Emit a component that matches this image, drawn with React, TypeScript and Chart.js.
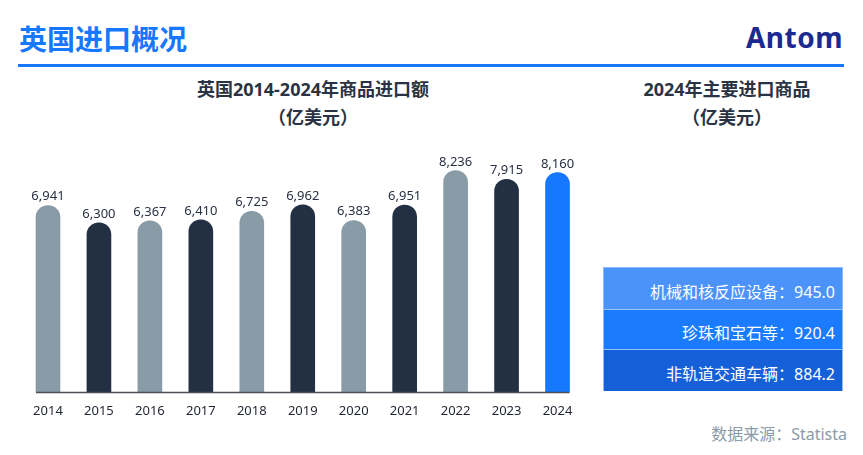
import React, { useEffect, useRef } from "react";
import { Chart, registerables } from "chart.js";

Chart.register(...registerables);

const years = ["2014", "2015", "2016", "2017", "2018", "2019", "2020", "2021", "2022", "2023", "2024"];
const importValues = [6941, 6300, 6367, 6410, 6725, 6962, 6383, 6951, 8236, 7915, 8160];
const barColors = ["#8a9ba8", "#232f43", "#8a9ba8", "#232f43", "#8a9ba8", "#232f43", "#8a9ba8", "#232f43", "#8a9ba8", "#232f43", "#1677ff"];

const topGoods = ["机械和核反应设备", "珍珠和宝石等", "非轨道交通车辆"];
const topGoodsValues = [945.0, 920.4, 884.2];
const topGoodsColors = ["#4b92fb", "#1b7bff", "#1560d8"];

const FONT = '"Noto Sans", "Noto Sans CJK SC", sans-serif';

const labelPlugin = {
  id: "barLabels",
  afterDatasetsDraw(chart: any) {
    const ctx = chart.ctx;
    const meta = chart.getDatasetMeta(0);
    const ds = chart.data.datasets[0];
    ctx.save();
    // baseline axis line spanning first to last bar
    const first = meta.data[0];
    const last = meta.data[meta.data.length - 1];
    const y0 = chart.scales.y.getPixelForValue(0);
    ctx.strokeStyle = "#4a4f58";
    ctx.lineWidth = 1.5;
    ctx.beginPath();
    ctx.moveTo(first.x - first.width / 2, y0);
    ctx.lineTo(last.x + last.width / 2, y0);
    ctx.stroke();
    ctx.font = "13px " + FONT;
    ctx.fillStyle = "#2a3142";
    ctx.textAlign = "center";
    ctx.textBaseline = "alphabetic";
    meta.data.forEach((bar: any, i: number) => {
      const v = ds.data[i] as number;
      ctx.fillText(v.toLocaleString("en-US"), bar.x, bar.y - 5);
    });
    ctx.restore();
  },
};

export default function App() {
  const canvasRef = useRef<HTMLCanvasElement | null>(null);

  useEffect(() => {
    document.body.style.margin = "0";
    const canvas = canvasRef.current;
    if (!canvas) return;
    const chart = new Chart(canvas, {
      type: "bar",
      data: {
        labels: years,
        datasets: [
          {
            data: importValues,
            backgroundColor: barColors,
            barThickness: 24,
            borderRadius: { topLeft: 12, topRight: 12, bottomLeft: 0, bottomRight: 0 },
            borderSkipped: false,
          },
        ],
      },
      options: {
        responsive: false,
        animation: false,
        devicePixelRatio: 1,
        layout: { padding: { left: 22.5, right: 17, top: 10, bottom: 0 } },
        plugins: { legend: { display: false }, tooltip: { enabled: false }, title: { display: false } },
        scales: {
          x: {
            offset: true,
            grid: { display: false, drawTicks: false },
            border: { display: false },
            ticks: { color: "#1f2430", font: { size: 13, family: FONT }, padding: 11 },
          },
          y: { display: false, min: 0, max: 9000 },
        },
      },
      plugins: [labelPlugin],
    });
    return () => chart.destroy();
  }, []);

  const abs = (s: React.CSSProperties): React.CSSProperties => ({ position: "absolute", ...s });

  return (
    <div style={{ position: "relative", width: 863, height: 455, background: "#ffffff", fontFamily: FONT, overflow: "hidden" }}>
      <div style={abs({ left: 19, top: 25, fontSize: 28, lineHeight: "28px", fontWeight: 700, color: "#1677ff", whiteSpace: "nowrap" })}>
        英国进口概况
      </div>
      <div style={abs({ right: 20, top: 23, fontSize: 28, lineHeight: "28px", fontWeight: 700, color: "#1b2a8f", letterSpacing: 0.5 })}>
        Antom
      </div>
      <div style={abs({ left: 18, top: 64, width: 826, height: 3, background: "#1677ff" })} />

      <div style={abs({ left: 113, top: 75, width: 400, textAlign: "center", fontSize: 18, lineHeight: "28px", fontWeight: 700, color: "#2a3344" })}>
        <div>英国2014-2024年商品进口额</div>
        <div>（亿美元）</div>
      </div>
      <div style={abs({ left: 577, top: 75, width: 300, textAlign: "center", fontSize: 18, lineHeight: "28px", fontWeight: 700, color: "#2a3344" })}>
        <div>2024年主要进口商品</div>
        <div>（亿美元）</div>
      </div>

      <canvas ref={canvasRef} width={600} height={290} style={abs({ left: 0, top: 140, width: 600, height: 290 })} />

      <div style={abs({ left: 603, top: 267, width: 240 })}>
        {topGoods.map((g, i) => (
          <div
            key={g}
            style={{
              boxSizing: "border-box",
              height: i === 1 ? 40 : 42,
              paddingTop: 6,
              paddingRight: 7,
              lineHeight: (i === 1 ? 34 : 36) + "px",
              textAlign: "right",
              background: topGoodsColors[i],
              color: "#ffffff",
              fontSize: 16,
              borderTop: i === 0 ? "1px solid #8fbaff" : "1px solid #9cc3ff",
              borderLeft: "1px solid #8fbaff",
              borderRight: "1px solid #8fbaff",
            }}
          >
            {g}：{topGoodsValues[i].toFixed(1)}
          </div>
        ))}
      </div>

      <div style={abs({ right: 16, top: 424, fontSize: 16, lineHeight: "20px", color: "#8a9aa8", whiteSpace: "nowrap" })}>
        数据来源：Statista
      </div>
    </div>
  );
}
